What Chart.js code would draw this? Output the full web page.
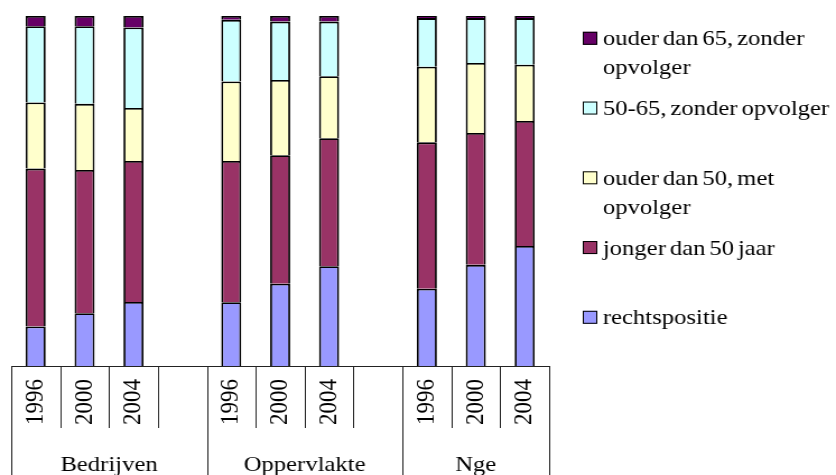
<!DOCTYPE html>
<html>
<head>
<meta charset="utf-8">
<script src="https://cdn.jsdelivr.net/npm/chart.js@4.4.1/dist/chart.umd.min.js"></script>
<style>
  html, body { margin: 0; padding: 0; background: #fff; overflow: hidden; width: 836px; height: 475px; }
  /* chart is drawn on a narrower canvas and widened to the page, giving the wide serif lettering */
  #wrap { width: 746px; height: 475px; transform: scaleX(1.12064); transform-origin: 0 0; }
  canvas { display: block; }
</style>
</head>
<body>
<div id="wrap"><canvas id="c" width="746" height="475"></canvas></div>
<script>
// Groups and years on the category axis
const groups = ['Bedrijven', 'Oppervlakte', 'Nge'];
const years = ['1996', '2000', '2004'];

// Shares (%) per group and year: Bedrijven 96/00/04, Oppervlakte 96/00/04, Nge 96/00/04
const rechtspositie      = [11.3, 15.1, 18.3, 18.2, 23.5, 28.5, 22.1, 28.9, 34.3];
const jongerDan50        = [45.1, 40.9, 40.3, 40.4, 36.7, 36.6, 41.8, 37.7, 35.7];
const ouderDan50Met      = [18.9, 18.9, 15.1, 22.7, 21.5, 17.7, 21.6, 20.0, 16.1];
const van50tot65Zonder   = [21.8, 22.2, 23.0, 17.6, 16.7, 15.6, 13.9, 12.8, 13.3];
const ouderDan65Zonder   = [ 2.9,  2.9,  3.3,  1.1,  1.6,  1.6,  0.6,  0.6,  0.6];

const seriesNames = [
  'rechtspositie',
  'jonger dan 50 jaar',
  'ouder dan 50, met opvolger',
  '50-65, zonder opvolger',
  'ouder dan 65, zonder opvolger'
];
const seriesColors = ['#9999FF', '#993366', '#FFFFCC', '#CCFFFF', '#660066'];
const seriesValues = [rechtspositie, jongerDan50, ouderDan50Met, van50tot65Zonder, ouderDan65Zonder];

// Category slots: three years per group, an empty slot between groups
const labels = [];
const groupSpans = [];
groups.forEach((g, gi) => {
  const start = labels.length;
  years.forEach(y => labels.push(y));
  if (gi < groups.length - 1) labels.push('');
  groupSpans.push({ name: g, start: start, count: labels.length - start });
});

function spread(values) {
  const out = [];
  groups.forEach((g, gi) => {
    years.forEach((y, yi) => out.push(values[gi * years.length + yi]));
    if (gi < groups.length - 1) out.push(null);
  });
  return out;
}

const datasets = seriesNames.map((name, i) => ({
  label: name,
  data: spread(seriesValues[i]),
  backgroundColor: seriesColors[i],
  borderColor: '#000',
  borderWidth: 1.8,
  borderSkipped: 'start',
  barPercentage: 0.41,
  categoryPercentage: 1.0
}));

const SERIF = '"Liberation Serif", "Times New Roman", serif';

// Axis line, slot dividers and group names below the year labels
const categoryFrame = {
  id: 'categoryFrame',
  afterDraw(chart) {
    const { ctx, chartArea } = chart;
    const xs = chart.scales.x;
    const slot = (chartArea.right - chartArea.left) / labels.length;
    const bottom = chart.height;
    ctx.save();
    ctx.strokeStyle = '#222';
    ctx.lineWidth = 1;
    ctx.beginPath();
    ctx.moveTo(chartArea.left, chartArea.bottom + 0.5);
    ctx.lineTo(chartArea.right, chartArea.bottom + 0.5);
    ctx.stroke();
    const groupEdges = new Set();
    groupSpans.forEach(s => { groupEdges.add(s.start); groupEdges.add(s.start + s.count); });
    for (let i = 0; i <= labels.length; i++) {
      const x = Math.round(xs.getPixelForValue(Math.min(i, labels.length - 1)) + (i === labels.length ? slot / 2 : -slot / 2)) + 0.5;
      const yEnd = groupEdges.has(i) ? bottom : chartArea.bottom + 62;
      ctx.beginPath();
      ctx.moveTo(x, chartArea.bottom);
      ctx.lineTo(x, yEnd);
      ctx.stroke();
    }
    ctx.fillStyle = '#000';
    ctx.font = '22px ' + SERIF;
    ctx.textAlign = 'center';
    ctx.textBaseline = 'alphabetic';
    groupSpans.forEach(s => {
      const x0 = xs.getPixelForValue(s.start) - slot / 2;
      const x1 = x0 + s.count * slot;
      ctx.fillText(s.name, (x0 + x1) / 2, chartArea.bottom + 105);
    });
    ctx.restore();
  }
};

// Legend to the right of the plot, top series first, long names wrapped
const sideLegend = {
  id: 'sideLegend',
  afterDraw(chart) {
    const { ctx, chartArea } = chart;
    const left = chartArea.right + 30;
    const textX = left + 18;
    const maxW = chart.width - textX - 1;
    const firstCenter = chartArea.top + 22.3;
    const step = 69.75;
    const lineH = 29;
    ctx.save();
    ctx.font = '22px ' + SERIF;
    if ('wordSpacing' in ctx) ctx.wordSpacing = '-2px';
    ctx.textBaseline = 'alphabetic';
    ctx.textAlign = 'left';
    const order = chart.data.datasets.map((d, i) => i).reverse();
    order.forEach((di, k) => {
      const ds = chart.data.datasets[di];
      const cy = firstCenter + k * step;
      ctx.fillStyle = ds.backgroundColor;
      ctx.fillRect(left, cy - 6.5, 13, 13);
      ctx.strokeStyle = '#000';
      ctx.lineWidth = 1;
      ctx.strokeRect(left + 0.5, cy - 6, 12, 12);
      const words = ds.label.split(' ');
      const lines = [];
      let cur = '';
      words.forEach(w => {
        const t = cur ? cur + ' ' + w : w;
        if (cur && ctx.measureText(t).width > maxW) { lines.push(cur); cur = w; }
        else cur = t;
      });
      lines.push(cur);
      ctx.fillStyle = '#000';
      lines.forEach((ln, li) => ctx.fillText(ln, textX, cy + 7 + li * lineH));
    });
    ctx.restore();
  }
};

new Chart(document.getElementById('c'), {
  type: 'bar',
  data: { labels: labels, datasets: datasets },
  options: {
    responsive: false,
    animation: false,
    devicePixelRatio: 1,
    layout: { padding: { left: 10, top: 16, right: 256, bottom: 0 } },
    plugins: {
      legend: { display: false },
      tooltip: { enabled: false }
    },
    scales: {
      x: {
        stacked: true,
        offset: true,
        grid: { display: false, drawTicks: false },
        border: { display: false },
        ticks: {
          autoSkip: false,
          minRotation: 90,
          maxRotation: 90,
          padding: 13,
          color: '#000',
          font: { family: SERIF, size: 23 }
        },
        afterFit(scale) { scale.height = 109; }
      },
      y: {
        stacked: true,
        min: 0,
        max: 100,
        display: false
      }
    }
  },
  plugins: [categoryFrame, sideLegend]
});
</script>
</body>
</html>
